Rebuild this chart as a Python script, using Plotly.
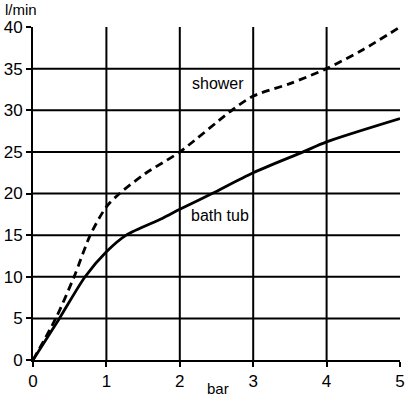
import plotly.graph_objects as go

shower_x = [0, 0.31, 0.56, 0.78, 1.0, 1.18, 1.53, 2.0, 2.71, 3.0, 3.5, 4.0, 4.5, 5.0]
shower_y = [0, 5, 10, 15, 18.4, 20, 22.4, 25, 30, 31.7, 33.2, 35, 37.3, 40]
bath_x = [0, 0.36, 0.71, 1.0, 1.27, 1.76, 2.0, 2.44, 3.0, 3.68, 4.0, 5.0]
bath_y = [0, 5, 10, 13, 15, 17, 18.1, 20, 22.5, 25, 26.2, 29]
x_ticks = [0, 1, 2, 3, 4, 5]
y_ticks = [0, 5, 10, 15, 20, 25, 30, 35, 40]

W, H = 418, 397
l, r, t, b = 33, 18, 27, 37
pw, ph = W - l - r, H - t - b

fig = go.Figure()
fig.add_trace(go.Scatter(x=shower_x, y=shower_y, mode="lines",
                         line=dict(color="black", width=2.8, dash="8px,5px", shape="spline", smoothing=0.8),
                         showlegend=False))
fig.add_trace(go.Scatter(x=bath_x, y=bath_y, mode="lines",
                         line=dict(color="black", width=2.8, shape="spline", smoothing=0.8),
                         showlegend=False))

shapes = []
for xv in x_ticks[1:-1]:
    shapes.append(dict(type="line", xref="x", yref="y", x0=xv, x1=xv, y0=0, y1=40,
                       line=dict(color="black", width=2), layer="below"))
for yv in y_ticks[1:-1]:
    shapes.append(dict(type="line", xref="x", yref="y", x0=0, x1=5, y0=yv, y1=yv,
                       line=dict(color="black", width=2), layer="below"))

fig.update_layout(
    width=W, height=H,
    margin=dict(l=l, r=r, t=t, b=b, autoexpand=False),
    paper_bgcolor="white", plot_bgcolor="white",
    font=dict(family="Liberation Sans, Arial, sans-serif", color="black", size=16),
    shapes=shapes,
    xaxis=dict(range=[0, 5], tickvals=x_ticks, showgrid=False, zeroline=False,
               showline=True, linecolor="black", linewidth=2, automargin=False,
               ticks="outside", ticklen=5, tickwidth=2, tickcolor="black",
               tickfont=dict(size=17)),
    yaxis=dict(range=[0, 40], tickvals=y_ticks, showgrid=False, zeroline=False,
               showline=True, linecolor="black", linewidth=2, automargin=False,
               ticks="outside", ticklen=5, tickwidth=2, tickcolor="black",
               tickfont=dict(size=17)),
    annotations=[
        dict(text="shower", x=2.52, y=33.2, xref="x", yref="y", showarrow=False, font=dict(size=16)),
        dict(text="bath tub", x=2.55, y=17.3, xref="x", yref="y", showarrow=False, font=dict(size=16)),
        dict(text="l/min", x=(3 - l) / pw, y=(H - b - 10) / ph, xref="paper", yref="paper",
             showarrow=False, xanchor="left", yanchor="middle", font=dict(size=15)),
        dict(text="bar", x=(218 - l) / pw, y=(H - b - 388) / ph, xref="paper", yref="paper",
             showarrow=False, yanchor="middle", font=dict(size=15)),
    ],
)
fig.write_html("out.html", config={"displayModeBar": False},
               post_script="document.body.style.margin='0';document.body.style.overflow='hidden';")
